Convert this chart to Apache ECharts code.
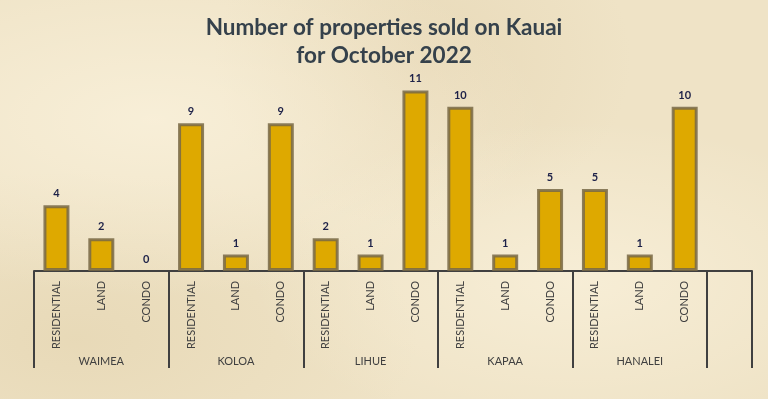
<!DOCTYPE html>
<html>
<head>
<meta charset="utf-8">
<script src="https://cdn.jsdelivr.net/npm/echarts@6/dist/echarts.min.js"></script>
<style>
html,body{margin:0;padding:0;}
#chart{
	width:768px;height:399px;
	background-color:#efe3c6;
	background-image:
		radial-gradient(ellipse at 20% 30%, rgba(255,248,230,0.55), rgba(255,248,230,0) 45%),
		radial-gradient(ellipse at 75% 70%, rgba(255,248,230,0.5), rgba(255,248,230,0) 40%),
		radial-gradient(ellipse at 55% 15%, rgba(220,200,160,0.35), rgba(220,200,160,0) 35%),
		radial-gradient(ellipse at 10% 85%, rgba(215,195,150,0.3), rgba(215,195,150,0) 35%);
}
</style>
</head>
<body>
<div id="chart"></div>
<script>
// districts and property types
const districts=['WAIMEA','KOLOA','LIHUE','KAPAA','HANALEI'];
const types=['RESIDENTIAL','LAND','CONDO'];
// sold counts per district, in order residential, land, condo
const waimea=[4,2,0];
const koloa=[9,1,9];
const lihue=[2,1,11];
const kapaa=[10,1,5];
const hanalei=[5,1,10];

let typeLabels=[],groupLabels=[],values=[];
const counts=[waimea,koloa,lihue,kapaa,hanalei];
districts.forEach(function(d,i){
	types.forEach(function(t,j){
		let v=counts[i][j];
		typeLabels.push(t);
		groupLabels.push(j==1?d:'');
		// a zero bar should not leave a border line on the axis
		values.push(v==0?{value:v,itemStyle:{borderWidth:0,color:'transparent'}}:v);
	});
});
// empty trailing slot like the original sheet
typeLabels.push('');
groupLabels.push('');
values.push('-');

const axisColor='#404040';
let myChart=echarts.init(document.getElementById('chart'));
myChart.setOption({
	animation:false,
	title:{
		text:'Number of properties sold on Kauai\nfor October 2022',
		left:'center',top:9,
		textStyle:{fontFamily:'Lato',fontWeight:'bold',fontSize:22.5,color:'#35414b',lineHeight:28}
	},
	grid:{left:34,right:16,top:74,bottom:128},
	xAxis:[{
		type:'category',data:typeLabels,position:'bottom',
		axisLine:{lineStyle:{color:axisColor,width:2}},
		axisTick:{show:false},
		axisLabel:{rotate:90,margin:10,fontFamily:'Lato',fontSize:11,color:axisColor,interval:0}
	},{
		type:'category',data:groupLabels,position:'bottom',offset:0,
		axisLine:{show:false},
		axisTick:{show:true,length:97,lineStyle:{color:axisColor,width:2},
			interval:function(idx){return idx%3==0;}},
		axisLabel:{margin:85,fontFamily:'Lato',fontSize:11,color:axisColor,interval:0}
	}],
	yAxis:{type:'value',min:0,max:12,show:false,splitLine:{show:false}},
	series:[{
		type:'bar',xAxisIndex:0,data:values,barWidth:26,
		itemStyle:{color:'#dea900',borderColor:'rgba(120,105,70,0.85)',borderWidth:3},
		label:{show:true,position:'top',distance:6,fontFamily:'Lato',fontWeight:'bold',fontSize:11,color:'#1d2148'}
	}]
});
</script>
</body>
</html>
